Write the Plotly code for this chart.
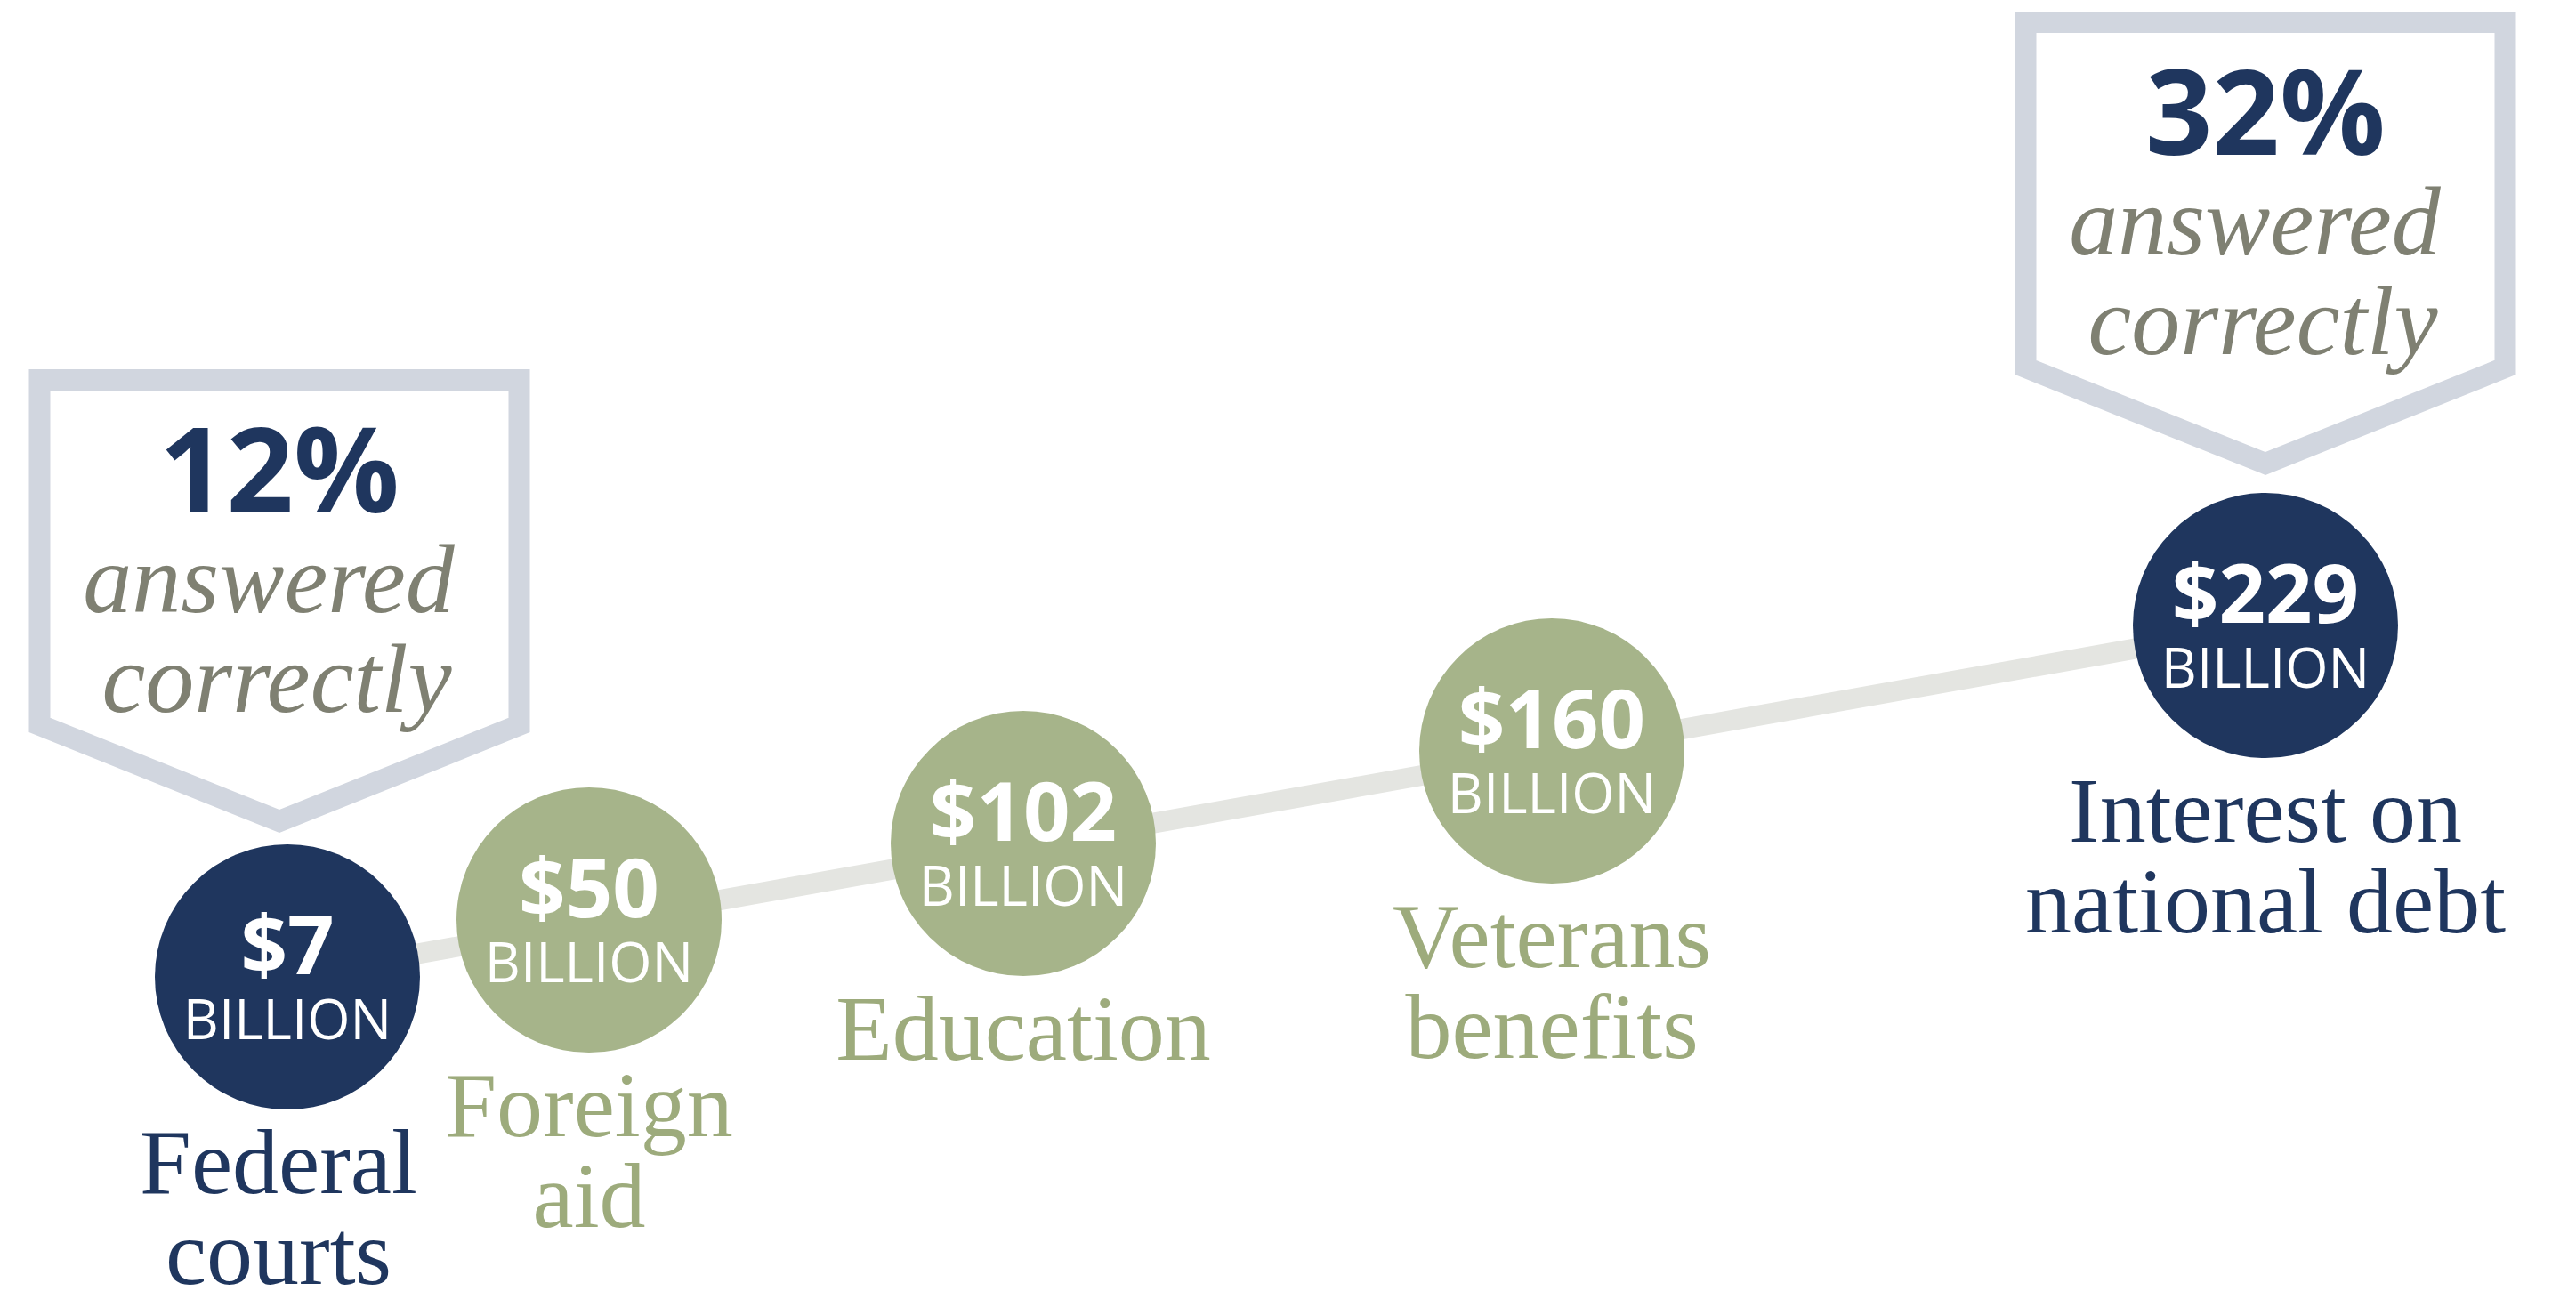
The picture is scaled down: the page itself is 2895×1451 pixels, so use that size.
import plotly.graph_objects as go

# ---------------- data ----------------
categories = ["Federal courts", "Foreign aid", "Education", "Veterans benefits",
              "Interest on national debt"]
label_lines = [["Federal", "courts"], ["Foreign", "aid"], ["Education"],
               ["Veterans", "benefits"], ["Interest on", "national debt"]]
spending_billions = [7, 50, 102, 160, 229]
unit_label = "BILLION"
callout_categories = ["Federal courts", "Interest on national debt"]
callout_pct_correct = [12, 32]
callout_caption = ["answered", "correctly"]

# ---------------- layout / style ----------------
W, H = 2895, 1451
NAVY = "#1f365e"
GREEN = "#a6b48a"
GREEN_TEXT = "#9dab7c"
BOX = "#d1d6df"
GREY = "#7f8072"
TRACK = "#e4e5e1"
SANS = "Open Sans"
SERIF = "Liberation Serif"

node_x = [323, 662, 1150, 1744, 2546]
node_y = [1098, 1034, 948, 844, 703]
R = 149
label_dx = [-10, 0, 0, 0, 0]
callout_dx = [-9, 0]
callout_gap = [13, 20]
BASE = 0.25  # baseline offset factor of middle-anchored text


def text_trace(xs, baselines, texts, size, color, family, weight="normal", style="normal"):
    return go.Scatter(
        x=xs, y=[b - BASE * size for b in baselines], text=texts, mode="text",
        textposition="middle center",
        textfont=dict(size=size, color=color, family=family, weight=weight, style=style),
        hoverinfo="skip", showlegend=False)


highlight = [c in callout_categories for c in categories]
node_colors = [NAVY if h else GREEN for h in highlight]
label_colors = [NAVY if h else GREEN_TEXT for h in highlight]

fig = go.Figure()

# track line between first and last node
fig.add_trace(go.Scatter(x=[node_x[0], node_x[-1]], y=[node_y[0], node_y[-1]], mode="lines",
                         line=dict(color=TRACK, width=23), hoverinfo="skip", showlegend=False))

# circles
fig.add_trace(go.Scatter(x=node_x, y=node_y, mode="markers",
                         marker=dict(size=2 * R, color=node_colors, line=dict(width=0)),
                         hoverinfo="skip", showlegend=False))

# values in circles
fig.add_trace(text_trace(node_x, [y - 3 for y in node_y], [f"${v}" for v in spending_billions],
                         92, "white", SANS, weight="bold"))
fig.add_trace(text_trace(node_x, [y + 70 for y in node_y], [unit_label] * len(node_x),
                         62, "white", SANS))

# category labels
for i, lines in enumerate(label_lines):
    for j, line in enumerate(lines):
        fig.add_trace(text_trace([node_x[i] + label_dx[i]], [node_y[i] + 243 + 102 * j], [line],
                                 104, label_colors[i], SERIF))

# callout boxes
for k, cat in enumerate(callout_categories):
    i = categories.index(cat)
    cx = node_x[i] + callout_dx[k]
    ty = node_y[i] - R - callout_gap[k]          # outer tip of chevron
    top, sideb, tipm, hw = ty - 509, ty - 121, ty - 13, 269.5
    px = [cx, cx + hw, cx + hw, cx, cx - hw, cx - hw, cx]
    py = [top, top, sideb, tipm, sideb, top, top]
    fig.add_trace(go.Scatter(x=px, y=py, mode="lines", line=dict(color=BOX, width=24),
                             hoverinfo="skip", showlegend=False))
    otop = ty - 521
    fig.add_trace(text_trace([cx], [otop + 161], [f"{callout_pct_correct[k]}%"],
                             132, NAVY, SANS, weight="bold"))
    fig.add_trace(text_trace([cx - 12], [otop + 273], [callout_caption[0]],
                             110, GREY, SERIF, style="italic"))
    fig.add_trace(text_trace([cx - 3], [otop + 385], [callout_caption[1]],
                             110, GREY, SERIF, style="italic"))

fig.update_layout(
    width=W, height=H, margin=dict(l=0, r=0, t=0, b=0),
    paper_bgcolor="white", plot_bgcolor="white", showlegend=False, hovermode=False,
    xaxis=dict(range=[0, W], visible=False, fixedrange=True),
    yaxis=dict(range=[H, 0], visible=False, fixedrange=True),
)

fig.write_html("out.html", config={"displayModeBar": False},
               post_script="document.body.style.margin='0';document.body.style.overflow='hidden';")
